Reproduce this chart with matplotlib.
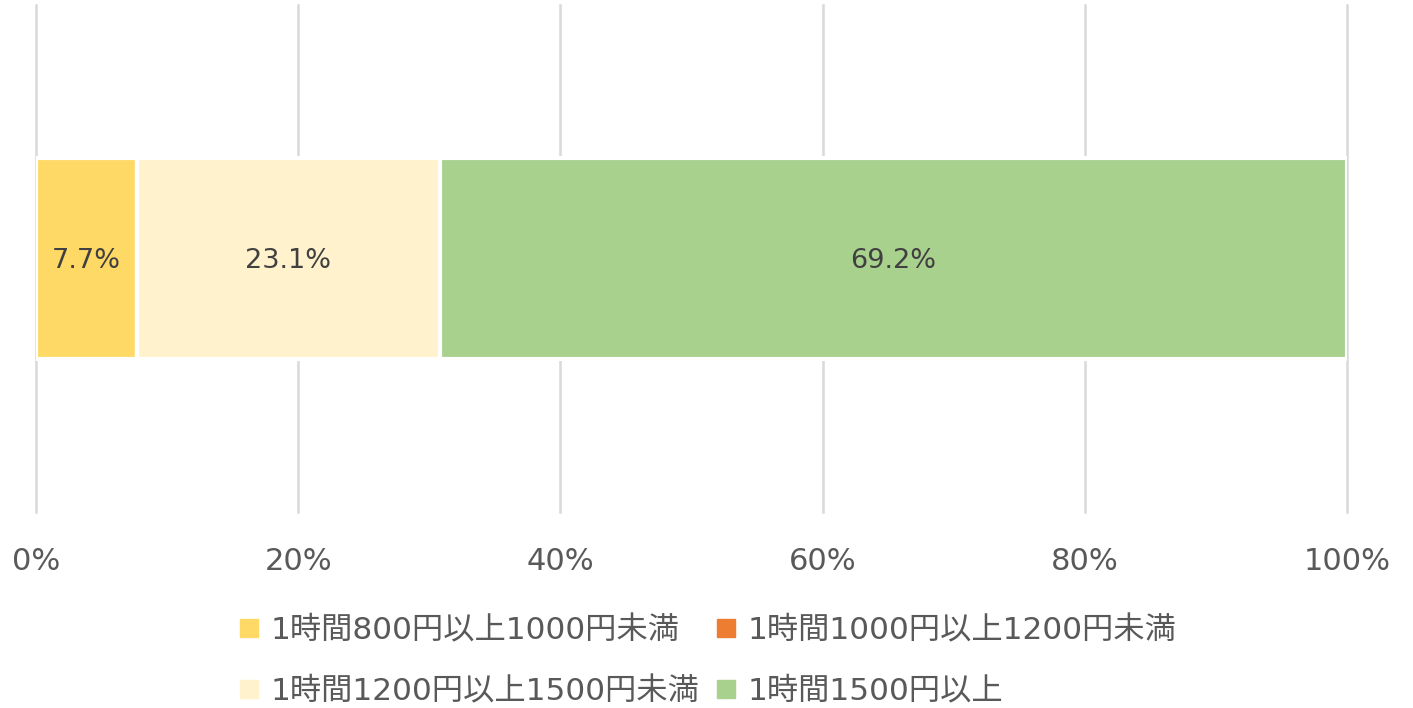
import matplotlib.pyplot as plt
from matplotlib.lines import Line2D

plt.rcParams['font.family'] = ['DejaVu Sans', 'Noto Sans CJK JP']

# hourly wage bands and their share (%)
categories = ['1時間800円以上1000円未満', '1時間1000円以上1200円未満',
              '1時間1200円以上1500円未満', '1時間1500円以上']
shares = [7.7, 0.0, 23.1, 69.2]
colors = ['#FFD966', '#ED7D31', '#FFF2CC', '#A9D18E']
tick_values = [0, 20, 40, 60, 80, 100]
tick_labels = ['0%', '20%', '40%', '60%', '80%', '100%']

fig = plt.figure(figsize=(14.13, 7.08), dpi=100)
ax = fig.add_axes([36 / 1413, 1 - 512 / 708, (1347 - 36) / 1413, 507 / 708])

left = 0
for name, val, col in zip(categories, shares, colors):
    ax.barh(0, val, left=left, height=0.79, color=col, edgecolor='white',
            linewidth=3, zorder=3)
    if val > 0:
        ax.text(left + val / 2, -0.01, '{:.1f}%'.format(val), ha='center', va='center',
                fontsize=19.5, color='#404040', zorder=4)
    left += val

ax.set_xlim(0, 100)
ax.set_ylim(-1, 1)
ax.set_yticks([])
ax.set_xticks(tick_values)
ax.set_xticklabels(tick_labels, fontsize=22, color='#595959')
ax.tick_params(axis='x', length=0, pad=25)
for s in ax.spines.values():
    s.set_visible(False)
ax.grid(axis='x', color='#D9D9D9', linewidth=1.8, zorder=0)
for gl in ax.get_xgridlines():
    gl.set_clip_on(False)

# legend filled row by row
handles = [Line2D([], [], marker='s', linestyle='none', markersize=12.5,
                  markerfacecolor=c, markeredgecolor=c) for c in colors]
order = [0, 2, 1, 3]
fig.legend([handles[i] for i in order], [categories[i] for i in order],
           loc='center', bbox_to_anchor=(0.5, 1 - 661 / 708), ncol=2,
           frameon=False, fontsize=22.5, labelcolor='#595959',
           handletextpad=0.3, columnspacing=0.45, labelspacing=1.0,
           handlelength=0.8)

fig.savefig('out.png', dpi=100)
